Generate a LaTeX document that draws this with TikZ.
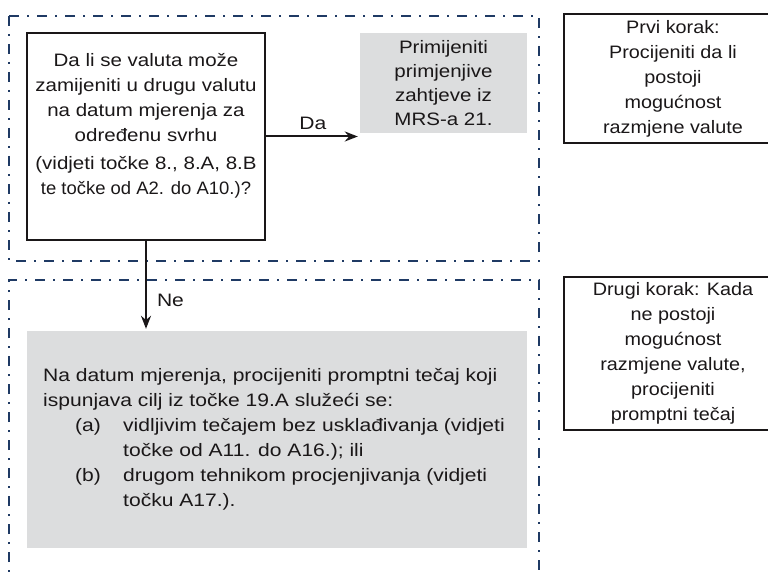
\documentclass[tikz,border=0pt]{standalone}
\usepackage{fontspec}
\setmainfont{Liberation Sans}[FakeStretch=1.17]
\newfontfamily\qfont{Liberation Sans}[FakeStretch=1.14]
\newfontfamily\stepfont{Liberation Sans}[FakeStretch=1.1]
\usetikzlibrary{arrows.meta}
\definecolor{navy}{HTML}{1F3A64}
\definecolor{boxgray}{HTML}{DCDDDE}
\definecolor{ink}{HTML}{1A1718}
\begin{document}
\begin{tikzpicture}[x=1pt,y=-1pt,
  every node/.style={font=\fontsize{18}{25}\selectfont, text=ink, inner sep=0pt},
  frame/.style={draw=navy, line width=2pt, dash pattern=on 10pt off 8pt on 2pt off 8pt},
  qbox/.style={draw=ink, line width=2pt, rectangle, minimum width=238pt, minimum height=207pt, align=center, font=\qfont\fontsize{18}{25}\selectfont},
  graybox/.style={fill=boxgray, rectangle},
  stepbox/.style={draw=ink, line width=2pt, rectangle, minimum width=218pt, align=center, font=\stepfont\fontsize{18}{25}\selectfont},
  arr/.style={draw=ink, line width=2pt, shorten >=2pt, -{Stealth[length=13pt,width=10pt]}}]
\useasboundingbox (0,0) rectangle (768,572);
\clip (0,0) rectangle (768,572);
% frames
\draw[frame] (9,16) rectangle (539,261);
\draw[frame] (9,590) -- (9,280) -- (539,280) -- (539,590);
% question box
\node[qbox] (q) at (146,136.5) {Da li se valuta može\\ zamijeniti u drugu valutu\\ na datum mjerenja za\\ određenu svrhu\\[3pt] (vidjeti točke 8., 8.A, 8.B\\ \scalebox{0.9}[1]{te točke od A2. do A10.)?}\\ \mbox{}};
% apply box
\node[graybox, minimum width=167pt, minimum height=100pt, align=center, font=\qfont\fontsize{18}{24}\selectfont] (p) at (443.5,83) {Primijeniti\\ primjenjive\\ zahtjeve iz\\ MRS-a 21.};
% lower grey box
\node[graybox, minimum width=500pt, minimum height=217pt] (g) at (277,439.5) {};
\node[align=left, anchor=west] (gt) at (43,439.5) {Na datum mjerenja, procijeniti promptni tečaj koji\\
ispunjava cilj iz točke 19.A služeći se:\\
\hspace*{32pt}\makebox[48pt][l]{(a)}vidljivim tečajem bez usklađivanja (vidjeti\\
\hspace*{80pt}točke od A11. do A16.); ili\\
\hspace*{32pt}\makebox[48pt][l]{(b)}drugom tehnikom procjenjivanja (vidjeti\\
\hspace*{80pt}točku A17.).};
% arrows
\draw[arr] (q.east) -- (q.east -| p.west) node[midway, above=6pt] (da) {Da};
\draw[arr] (q.south) -- (q.south |- g.north) node[pos=0.66, right=10pt] (ne) {Ne};
% step boxes
\node[stepbox, minimum height=129pt] (s1) at (673,78.5) {Prvi korak:\\ Procijeniti da li\\ postoji\\ mogućnost\\ razmjene valute};
\node[stepbox, minimum height=153pt] (s2) at (673,353) {Drugi korak: Kada\\ ne postoji\\ mogućnost\\ razmjene valute,\\ procijeniti\\ promptni tečaj};
\end{tikzpicture}
\end{document}
